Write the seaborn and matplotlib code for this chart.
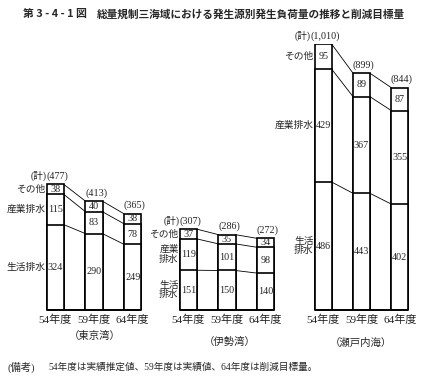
import pandas as pd
import matplotlib.pyplot as plt
import seaborn as sns

years = ['54年度', '59年度', '64年度']
regions = ['東京湾', '伊勢湾', '瀬戸内海']
# 発生負荷量 (トン/日)
seikatsu = [[324, 290, 249], [151, 150, 140], [486, 443, 402]]
sangyo = [[115, 83, 78], [119, 101, 98], [429, 367, 355]]
sonota = [[38, 40, 38], [37, 35, 34], [95, 89, 87]]
side_labels = [['生活排水', '産業排水', 'その他'],
               ['生活\n排水', '産業\n排水', 'その他'],
               ['生活\n排水', '産業排水', 'その他']]

sns.set_theme(style='white')
plt.rcParams['font.family'] = ['Liberation Serif', 'Noto Sans CJK JP']

W, H = 424, 384
fig = plt.figure(figsize=(W / 100, H / 100), dpi=100)
y0, ytop = 310, 44          # pixel rows of 0 and 1010
ax_rects = [(36, 116), (169, 116), (304, 115)]
group_label_pos = [(95, 336), (230, 342), (361, 343)]
w = 0.44

for k, region in enumerate(regions):
    left, width = ax_rects[k]
    ax = fig.add_axes([left / W, 1 - y0 / H, width / W, (y0 - ytop) / H])
    ax.patch.set_visible(False)
    df = pd.DataFrame({'year': years, 'a': seikatsu[k], 'b': sangyo[k], 'c': sonota[k]})
    df['lv1'] = df['a']
    df['lv2'] = df['lv1'] + df['b']
    df['lv3'] = df['lv2'] + df['c']

    # stacked bars drawn tallest first, white with black outline
    for col in ['lv3', 'lv2', 'lv1']:
        sns.barplot(data=df, x='year', y=col, color='white', saturation=1,
                    edgecolor='black', linewidth=1.2, width=w, errorbar=None, ax=ax)

    # connecting lines between bars
    for col in ['lv1', 'lv2', 'lv3']:
        for i in range(2):
            ax.plot([i + w / 2, i + 1 - w / 2], [df[col][i], df[col][i + 1]],
                    color='black', lw=0.6)
    ax.plot([-w / 2, 2 + w / 2], [0, 0], color='black', lw=1.4, clip_on=False)

    # values inside segments
    for i in range(3):
        bottoms = [0, df['lv1'][i], df['lv2'][i]]
        for bot, v in zip(bottoms, [df['a'][i], df['b'][i], df['c'][i]]):
            ax.text(i, bot + v / 2, str(v), ha='center', va='center', fontsize=7.3)
        total = df['lv3'][i]
        t = ax.annotate(f'({total:,})', xy=(i, total), xytext=(1.5, 2.5),
                        textcoords='offset points', ha='center', va='bottom',
                        fontsize=7.3, annotation_clip=False)
        if i == 0:
            ax.annotate('(計)', xy=(0, 0.5), xycoords=t, ha='right', va='center',
                        fontsize=7)

    # source labels left of first bar
    bottoms = [0, df['lv1'][0], df['lv2'][0]]
    for bot, v, lab in zip(bottoms, [df['a'][0], df['b'][0], df['c'][0]], side_labels[k]):
        ax.text(-w / 2 - 0.03, bot + v / 2, lab, ha='right', va='center',
                fontsize=7, linespacing=1.1)

    ax.set_xlim(-0.5, 2.5)
    ax.set_ylim(0, 1010)
    ax.set_xlabel('')
    ax.set_ylabel('')
    ax.set_yticks([])
    ax.tick_params(axis='x', length=0, pad=3, labelsize=8)
    sns.despine(ax=ax, left=True, bottom=True)

    gx, gy = group_label_pos[k]
    fig.text(gx / W, 1 - gy / H, f'（{region}）', ha='center', va='center', fontsize=7.5)

fig.text(23 / W, 1 - 14 / H, '第 3 - 4 - 1 図', ha='left', va='center', fontsize=7.8,
         fontweight='bold', family=['Noto Sans CJK JP'])
fig.text(97 / W, 1 - 14 / H, '総量規制三海域における発生源別発生負荷量の推移と削減目標量',
         ha='left', va='center', fontsize=7.7, fontweight='bold', family=['Noto Sans CJK JP'])
fig.text(7 / W, 1 - 367 / H, '(備考)', ha='left', va='center', fontsize=7.5)
fig.text(48 / W, 1 - 367 / H, '54年度は実績推定値、59年度は実績値、64年度は削減目標量。',
         ha='left', va='center', fontsize=6.9)

fig.savefig('out.png', dpi=100)
